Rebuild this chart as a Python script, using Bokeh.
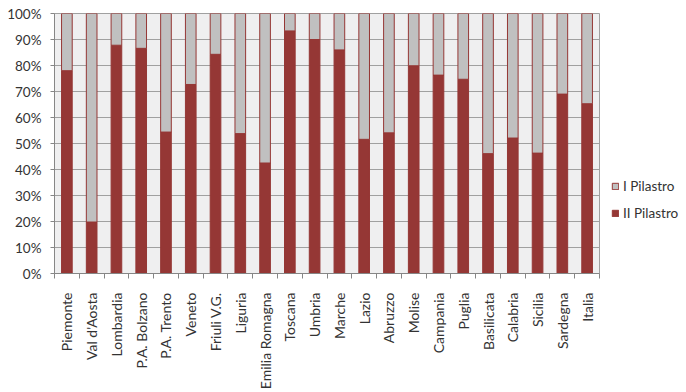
import math
from bokeh.plotting import figure
from bokeh.models import (Range1d, FixedTicker, PrintfTickFormatter, Legend,
                          LegendItem, ColumnDataSource)
from bokeh.embed import file_html
from bokeh.resources import INLINE

regions = ["Piemonte", "Val d'Aosta", "Lombardia", "P.A. Bolzano", "P.A. Trento",
           "Veneto", "Friuli V.G.", "Liguria", "Emilia Romagna", "Toscana", "Umbria",
           "Marche", "Lazio", "Abruzzo", "Molise", "Campania", "Puglia", "Basilicata",
           "Calabria", "Sicilia", "Sardegna", "Italia"]
ii_pilastro = [78.0, 19.8, 87.8, 86.6, 54.4, 72.7, 84.3, 53.8, 42.5, 93.3, 90.0,
               86.0, 51.6, 54.1, 79.9, 76.3, 74.7, 46.1, 52.1, 46.3, 69.0, 65.3]
i_pilastro = [22.0, 80.2, 12.2, 13.4, 45.6, 27.3, 15.7, 46.2, 57.5, 6.7, 10.0,
              14.0, 48.4, 45.9, 20.1, 23.7, 25.3, 53.9, 47.9, 53.7, 31.0, 34.7]
y_ticks = [0, 10, 20, 30, 40, 50, 60, 70, 80, 90, 100]

FONT = "Lato"
TXT = "#333333"
RED = "#953735"
GREY = "#c0c0c0"
AXIS = "#868686"

xs = list(range(len(regions)))
src = ColumnDataSource(dict(x=xs, ii=ii_pilastro, i=i_pilastro))

p = figure(output_backend="svg", toolbar_location=None,
           x_range=Range1d(-0.5, len(regions) - 0.5), y_range=Range1d(0, 100))
p.frame_width = 545
p.frame_height = 260
p.min_border_left = 54
p.min_border_top = 13
p.min_border_right = 86
p.min_border_bottom = 112
p.background_fill_color = "#efeff0"
p.border_fill_color = "white"
p.outline_line_color = "#a0a0a0"

rs = p.vbar_stack(["ii", "i"], x="x", width=0.43, source=src,
                  fill_color=[RED, GREY], line_color=[RED, RED], line_width=1)
r2, r1 = rs

# x axis
p.xaxis.ticker = FixedTicker(ticks=xs, minor_ticks=[k - 0.5 for k in range(len(regions) + 1)])
p.xaxis.major_label_overrides = {k: n for k, n in enumerate(regions)}
p.xaxis.major_label_orientation = math.pi / 2
p.xaxis.major_tick_line_color = None
p.xaxis.major_tick_out = 0
p.xaxis.major_tick_in = 0
p.xaxis.minor_tick_out = 5
p.xaxis.minor_tick_in = 0
p.xaxis.minor_tick_line_color = AXIS
p.xaxis.axis_line_color = AXIS
p.xaxis.major_label_standoff = 14
p.xaxis.major_label_text_font = FONT
p.xaxis.major_label_text_font_size = "14px"
p.xaxis.major_label_text_color = TXT

# y axis
p.yaxis.ticker = FixedTicker(ticks=y_ticks)
p.yaxis.formatter = PrintfTickFormatter(format="%d%%")
p.yaxis.major_tick_out = 4
p.yaxis.major_tick_in = 0
p.yaxis.minor_tick_line_color = None
p.yaxis.major_tick_line_color = AXIS
p.yaxis.axis_line_color = AXIS
p.yaxis.major_label_standoff = 9
p.yaxis.major_label_text_font = FONT
p.yaxis.major_label_text_font_size = "13.5px"
p.yaxis.major_label_text_color = TXT

p.xgrid.visible = False
p.ygrid.ticker = FixedTicker(ticks=y_ticks)
p.ygrid.grid_line_color = "#a0a0a0"

legend = Legend(items=[LegendItem(label="I Pilastro", renderers=[r1]),
                       LegendItem(label="II Pilastro", renderers=[r2])],
                location=(12, 52), orientation="vertical")
legend.background_fill_alpha = 0
legend.border_line_color = None
legend.padding = 0
legend.margin = 0
legend.spacing = 11
legend.glyph_width = 8
legend.glyph_height = 8
legend.label_height = 16
legend.label_standoff = 4
legend.label_text_font = FONT
legend.label_text_font_size = "13.5px"
legend.label_text_color = TXT
p.add_layout(legend, "right")

open("out.html", "w").write(file_html(p, INLINE))
